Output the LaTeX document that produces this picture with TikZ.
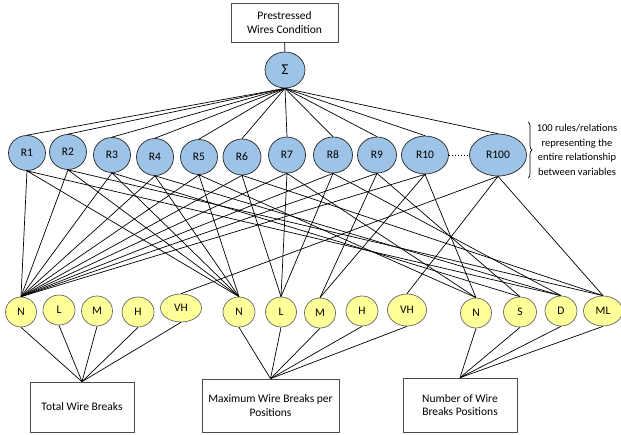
\documentclass[tikz,border=0pt]{standalone}
\usepackage{fontspec}
\setmainfont{Carlito}
\usetikzlibrary{shapes.geometric,decorations.pathreplacing}
\tikzset{>=stealth}
\definecolor{ruleblue}{RGB}{157,195,230}
\definecolor{termyellow}{RGB}{255,255,153}
\tikzset{
  rule/.style={ellipse,draw=black!85,fill=ruleblue,inner sep=0pt,line width=0.7pt},
  term/.style={ellipse,draw=black!60,fill=termyellow,inner sep=0pt,line width=0.7pt},
  box/.style={rectangle,draw=black!70,align=center,inner sep=2pt,line width=0.7pt},
  link/.style={line width=0.7pt}
}
\newcommand*{\rulenode}[5]
  {\node[rule,minimum width=#4,minimum height=#5] (#1) at #2 {#3}}
\newcommand*{\termnode}[5]
  {\node[term,minimum width=#4,minimum height=#5] (#1) at #2 {#3}}

\begin{document}
\begin{tikzpicture}[x=1pt,y=-1pt,font=\fontsize{11.5}{13.5}\selectfont]
\useasboundingbox (0,0) rectangle (621,434);
\node[box,minimum width=107,minimum height=39] (out) at (284.5,22.5) {Prestressed\\Wires Condition};
\node[rule,minimum width=40,minimum height=36,font=\fontsize{15}{15}\selectfont] (sum) at (285,70) {Σ};
\rulenode{r1}{(27,153)}{R1}{37}{35};
\rulenode{r2}{(68,152)}{R2}{37}{35};
\rulenode{r3}{(112,155)}{R3}{37}{35};
\rulenode{r4}{(155,157)}{R4}{37}{37};
\rulenode{r5}{(199,157)}{R5}{37}{35};
\rulenode{r6}{(242,157)}{R6}{38}{36};
\rulenode{r7}{(287,155)}{R7}{37}{36};
\rulenode{r8}{(333,155)}{R8}{39}{36};
\rulenode{r9}{(377,155)}{R9}{39}{36};
\rulenode{r10}{(425,155)}{R10}{47}{38};
\rulenode{r100}{(498,155)}{R100}{57}{42};
\termnode{tn}{(21,312)}{N}{31}{30};
\termnode{tl}{(59,310)}{L}{32}{30};
\termnode{tm}{(97,311)}{M}{31}{30};
\termnode{th}{(138,312)}{H}{32}{30};
\termnode{tvh}{(181,308)}{VH}{41}{28};
\termnode{mn}{(239,312)}{N}{32}{30};
\termnode{ml}{(281,312)}{L}{31}{30};
\termnode{mm}{(320,313)}{M}{31}{30};
\termnode{mh}{(362,311)}{H}{32}{30};
\termnode{mvh}{(407,310)}{VH}{39}{32};
\termnode{pn}{(476,313)}{N}{31}{30};
\termnode{ps}{(520,312)}{S}{33}{30};
\termnode{pd}{(561,311)}{D}{32}{30};
\termnode{pml}{(603,311)}{ML}{39}{30};
\node[box,minimum width=104,minimum height=50] (total) at (82,407) {Total Wire Breaks};
\node[box,minimum width=137,minimum height=53] (maxb) at (270.5,405.5) {Maximum Wire Breaks per\\Positions};
\node[box,minimum width=114,minimum height=54] (posn) at (460,405) {Number of Wire\\Breaks Positions};
\draw[link] (out) -- (sum);
\foreach \r in {r1,r2,r3,r4,r5,r6,r7,r8,r9,r10,r100}
  \draw[link] (sum.south) -- (\r.north);
\foreach \r/\a/\b/\c in {r1/tn/mn/pd,r2/tn/mn/pml,r3/tn/mn/ps,r4/tn/mn/pd,r5/tn/mn/pn,
    r6/tn/ml/pml,r7/tn/ml/pn,r8/tn/ml/pd,r9/tn/mm/ps,r10/tn/mm/pn,r100/tvh/mvh/pml}
  \draw[link] (\a.north) -- (\r.south) -- (\b.north) (\r.south) -- (\c.north);
\foreach \t in {tn,tl,tm,th,tvh}
  \draw[link] (\t.south) -- (total.north);
\foreach \t in {mn,ml,mm,mh,mvh}
  \draw[link] (\t.south) -- (maxb.north);
\foreach \t in {pn,ps,pd,pml}
  \draw[link] (\t.south) -- (posn.north);
\draw[link,dash pattern=on 1pt off 2pt] (r10.east) -- (r100.west);
\coordinate (btop) at (528,122);
\coordinate (bbot) at (528,178);
\draw[link,decorate,decoration={brace,amplitude=4pt}] (btop) -- (bbot);
\node[align=center,font=\fontsize{10.5}{14.5}\selectfont] (note) at (577,150)
  {100 rules/relations\\representing the\\entire relationship\\between variables};
\end{tikzpicture}
\end{document}
